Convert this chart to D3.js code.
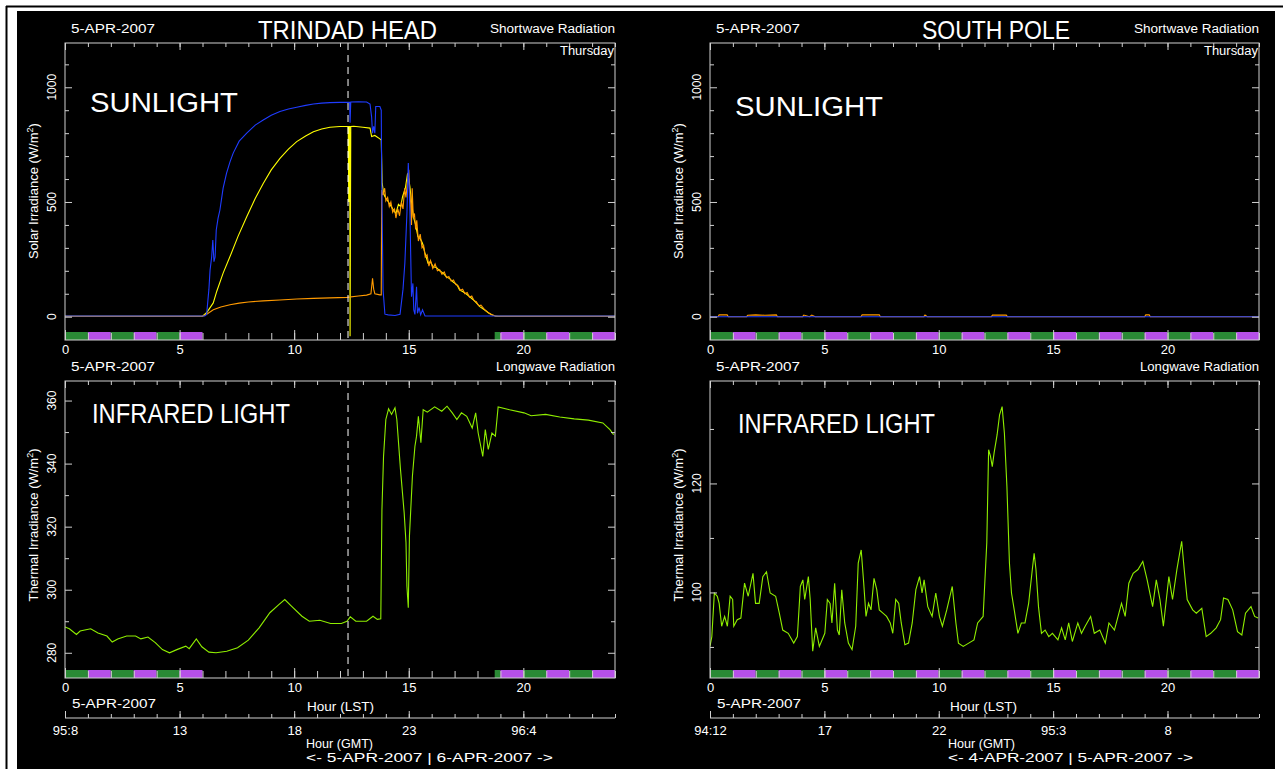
<!DOCTYPE html>
<html>
<head>
<meta charset="utf-8">
<script src="https://cdn.jsdelivr.net/npm/d3@7"></script>
<style>
  body { margin: 0; background: #fff; }
  svg text { font-family: "Liberation Sans", "DejaVu Sans", sans-serif; fill: #fff; }
</style>
</head>
<body>
<svg id="chart" width="1283" height="769"></svg>
<script>
// ---- data (hour LST, W/m2) ----
var lstTicks = [0, 5, 10, 15, 20];
var thGmtLabels = ["95:8", "13", "18", "23", "96:4"];
var spGmtLabels = ["94:12", "17", "22", "95:3", "8"];
var thNight = [[0, 6], [18.75, 24]];
var spNight = [[0, 24]];
var nowHour = 12.35;

// Trinidad Head shortwave
var thDirect = [[0,3],[6.1,3],[6.18,10],[6.28,120],[6.33,203],[6.4,260],[6.45,334],[6.5,240],[6.55,260],[6.6,378],[6.68,430],[6.76,465],[6.9,560],[7.05,626],[7.2,675],[7.34,713],[7.6,765],[7.93,800],[8.3,835],[8.65,857],[9.0,878],[9.38,894],[9.75,905],[10.11,913],[10.5,921],[10.84,927],[11.2,931],[11.56,933],[12.0,934],[12.3,934],[12.42,934],[12.44,845],[12.47,936],[12.8,937],[13.16,936],[13.31,927],[13.38,870],[13.42,800],[13.47,830],[13.52,800],[13.56,916],[13.74,916],[13.8,900],[13.82,610],[13.88,116],[13.96,11],[14.1,8],[14.4,5],[14.62,10],[14.75,120],[14.83,234],[14.92,450],[14.98,670],[15.02,560],[15.05,460],[15.12,87],[15.18,145],[15.22,30],[15.27,10],[15.34,130],[15.38,15],[15.45,40],[15.52,8],[15.6,30],[15.71,3],[24,3]];
var thGlobal = [[0,2],[6.0,2],[6.2,20],[6.47,60],[6.62,110],[6.9,190],[7.2,262],[7.55,350],[7.93,436],[8.3,515],[8.65,581],[9.0,640],[9.38,690],[9.75,730],[10.11,763],[10.5,788],[10.84,806],[11.2,818],[11.56,826],[12.0,829],[12.36,829],[12.38,500],[12.4,829],[12.42,829],[12.44,-85],[12.47,829],[12.6,830],[13.0,826],[13.31,822],[13.38,785],[13.52,790],[13.74,775],[13.8,770],[13.84,582],[13.9,540],[13.96,523],[14.05,510],[14.15,494],[14.3,470],[14.44,450],[14.55,490],[14.65,480],[14.73,523],[14.85,560],[14.95,625],[15.0,600],[15.05,567],[15.12,500],[15.2,436],[15.3,400],[15.4,349],[15.5,340],[15.6,320],[15.7,280],[15.84,233],[15.95,240],[16.06,218],[16.2,215],[16.35,200],[16.5,190],[16.64,174],[16.8,165],[16.95,150],[17.1,140],[17.22,116],[17.35,110],[17.5,100],[17.66,87],[17.8,75],[17.95,60],[18.1,44],[18.3,30],[18.5,15],[18.65,7],[18.8,2],[24,2]];
var thDiffuse = [[0,2],[6.0,2],[6.2,12],[6.47,30],[6.8,42],[7.2,52],[7.6,59],[8.0,64],[8.65,69],[9.38,73],[10.11,77],[10.84,80],[11.56,82],[12.3,84],[12.8,90],[13.16,94],[13.35,100],[13.42,167],[13.47,120],[13.52,100],[13.74,95],[13.8,95],[13.82,552],[13.88,530],[13.95,560],[14.0,505],[14.08,520],[14.15,480],[14.22,500],[14.3,455],[14.38,470],[14.44,430],[14.52,470],[14.6,440],[14.68,500],[14.75,470],[14.82,560],[14.88,520],[14.95,600],[15.0,640],[15.03,560],[15.08,500],[15.12,400],[15.15,560],[15.2,430],[15.25,450],[15.3,380],[15.35,420],[15.42,330],[15.5,360],[15.58,300],[15.65,310],[15.72,260],[15.8,270],[15.88,220],[15.95,245],[16.05,210],[16.15,230],[16.25,200],[16.35,205],[16.45,185],[16.55,195],[16.65,170],[16.75,175],[16.85,155],[16.95,160],[17.05,140],[17.15,135],[17.25,115],[17.35,120],[17.45,100],[17.55,105],[17.65,85],[17.75,90],[17.85,70],[17.95,65],[18.05,48],[18.15,50],[18.3,32],[18.45,20],[18.6,10],[18.75,4],[18.9,2],[24,2]];

// Trinidad Head longwave
var thIR = [[0,288.2],[0.19,287.6],[0.5,285.8],[0.66,286.9],[1.12,287.6],[1.44,286.3],[1.83,285.3],[2.06,283.4],[2.3,284.4],[2.69,285.3],[3.08,285.3],[3.31,284.4],[3.62,285.0],[3.94,283.2],[4.25,281.0],[4.56,280.0],[4.88,281.0],[5.27,282.1],[5.42,281.3],[5.73,284.4],[5.97,281.9],[6.28,280.2],[6.59,280.0],[7.06,280.5],[7.53,281.6],[8.0,284.0],[8.47,287.9],[8.94,292.7],[9.33,295.3],[9.59,296.9],[9.88,294.8],[10.34,291.6],[10.66,290.0],[11.12,290.3],[11.59,289.3],[12.06,289.3],[12.3,290.0],[12.45,291.4],[12.69,290.0],[13.16,290.0],[13.44,291.6],[13.63,290.6],[13.78,290.8],[13.83,325.4],[13.9,342.3],[14.0,354.0],[14.12,357.4],[14.25,355.6],[14.4,357.7],[14.48,354.0],[14.64,338.1],[14.8,324.4],[14.88,314.9],[14.92,301.1],[14.98,294.3],[15.03,317.0],[15.16,336.0],[15.27,345.5],[15.34,348.7],[15.42,355.0],[15.53,346.6],[15.63,357.1],[15.81,356.3],[16.13,358.0],[16.44,356.6],[16.67,358.2],[16.9,356.1],[17.1,354.0],[17.3,356.1],[17.53,355.0],[17.77,351.3],[17.92,356.1],[18.03,349.7],[18.23,342.3],[18.34,350.8],[18.47,344.5],[18.63,349.7],[18.78,348.7],[18.9,358.0],[19.4,357.1],[20.03,356.1],[20.34,355.2],[20.97,355.6],[21.59,354.8],[22.22,354.2],[22.84,353.8],[23.47,352.9],[23.78,350.8],[23.94,349.2]];

// South Pole shortwave
var spDiffuse = [[0,0],[0.35,0],[0.4,8],[0.75,8],[0.8,0],[1.6,0],[1.65,6],[2.0,8],[2.4,6],[2.9,8],[2.95,0],[4.05,0],[4.1,7],[4.35,0],[4.45,7],[4.6,0],[6.6,0],[6.65,8],[7.4,8],[7.45,0],[9.35,0],[9.4,7],[9.5,0],[12.3,0],[12.35,7],[12.95,7],[13.0,0],[19.0,0],[19.05,8],[19.2,8],[19.25,0],[24,0]];
var spDirect = [[0,0],[24,0]];

// South Pole longwave
var spIR = [[0,90.1],[0.08,91.9],[0.19,99.9],[0.32,99.3],[0.4,98.0],[0.51,93.8],[0.64,95.6],[0.76,93.8],[0.88,99.3],[0.99,98.7],[1.04,93.8],[1.19,95.0],[1.35,95.3],[1.51,101.7],[1.67,99.3],[1.88,103.5],[1.99,98.0],[2.15,98.0],[2.31,102.9],[2.47,103.8],[2.63,99.9],[2.87,99.3],[3.03,96.2],[3.18,93.1],[3.42,92.5],[3.66,90.7],[3.82,91.9],[3.95,101.1],[4.06,102.3],[4.14,98.7],[4.3,102.9],[4.38,98.7],[4.49,89.2],[4.62,93.5],[4.78,90.1],[5.02,92.5],[5.13,98.7],[5.25,98.0],[5.33,94.4],[5.45,101.7],[5.57,93.1],[5.65,92.2],[5.76,100.5],[5.89,94.4],[6.05,90.7],[6.21,89.5],[6.37,93.8],[6.48,105.4],[6.61,107.8],[6.72,101.7],[6.82,95.6],[6.93,98.0],[7.04,96.8],[7.17,102.6],[7.29,100.5],[7.4,96.8],[7.56,96.2],[7.72,95.6],[7.88,94.4],[7.99,92.5],[8.12,98.7],[8.25,98.0],[8.36,94.4],[8.52,90.4],[8.68,90.7],[8.84,94.4],[9.0,100.5],[9.16,102.9],[9.27,99.9],[9.36,102.3],[9.52,97.4],[9.71,95.6],[9.87,99.9],[10.03,95.6],[10.16,93.8],[10.35,96.8],[10.59,101.1],[10.75,94.4],[10.86,90.7],[11.07,90.1],[11.31,90.7],[11.54,91.3],[11.7,94.4],[11.94,95.6],[12.1,109.1],[12.18,126.2],[12.26,125.0],[12.34,123.1],[12.42,125.6],[12.55,128.9],[12.66,132.6],[12.77,134.1],[12.87,129.2],[12.98,119.4],[13.09,105.4],[13.18,99.9],[13.3,96.8],[13.46,92.5],[13.61,94.4],[13.77,94.4],[13.93,98.0],[14.09,104.2],[14.17,107.2],[14.25,104.2],[14.36,97.4],[14.49,92.5],[14.65,93.1],[14.81,91.9],[14.97,92.5],[15.21,91.3],[15.37,93.5],[15.53,91.3],[15.68,94.4],[15.84,91.0],[16.08,94.4],[16.24,92.5],[16.4,93.8],[16.64,95.6],[16.8,92.5],[17.04,93.1],[17.28,90.7],[17.44,94.4],[17.68,93.1],[17.99,98.0],[18.15,95.6],[18.31,101.7],[18.5,103.5],[18.71,104.2],[18.92,105.7],[19.11,102.3],[19.35,97.4],[19.51,102.3],[19.67,98.7],[19.82,93.8],[20.06,102.9],[20.22,98.7],[20.41,104.2],[20.62,109.4],[20.73,104.2],[20.86,98.7],[21.1,96.8],[21.26,96.2],[21.5,97.1],[21.69,91.9],[21.89,92.5],[22.13,93.5],[22.32,95.0],[22.45,99.0],[22.64,98.7],[22.85,96.8],[23.06,92.8],[23.25,92.2],[23.41,96.2],[23.65,97.4],[23.81,95.6],[23.96,95.3]];

var axisCol = "#d0d0d0";
var green = "#2a8a35", violet = "#b650e8";
var svg = d3.select("#chart");
var clipN = 0;

// page frame
svg.append("rect").attr("x", 17).attr("y", 11).attr("width", 1258).attr("height", 758).attr("fill", "#000");
svg.append("line").attr("x1", 6).attr("x2", 1283).attr("y1", 6.5).attr("y2", 6.5).attr("stroke", "#000").attr("stroke-width", 2);
svg.append("line").attr("x1", 6.5).attr("x2", 6.5).attr("y1", 6).attr("y2", 769).attr("stroke", "#000").attr("stroke-width", 2);

function label(x, y, txt, size, anchor, len) {
  var t = svg.append("text").attr("x", x).attr("y", y).attr("font-size", size)
    .attr("text-anchor", anchor || "start").text(txt);
  if (len) t.attr("textLength", len).attr("lengthAdjust", "spacingAndGlyphs");
  return t;
}

function ytitle(cx, cy, txt) {
  var t = svg.append("text").attr("transform", "translate(" + cx + "," + cy + ")rotate(-90)")
    .attr("text-anchor", "middle").attr("font-size", 13);
  t.append("tspan").text(txt + " (W/m");
  t.append("tspan").attr("dy", -5).attr("font-size", 9).text("2");
  t.append("tspan").attr("dy", 5).text(")");
}

function styleAxis(a) {
  a.select(".domain").remove();
  a.selectAll("line").attr("stroke", axisCol);
  a.selectAll("text").attr("fill", "#fff").attr("font-size", 13)
    .attr("font-family", "Liberation Sans, DejaVu Sans, sans-serif");
}

function panel(c) {
  var x = d3.scaleLinear().domain([0, 24]).range(c.xr);
  var y = d3.scaleLinear().domain(c.ydom).range(c.yr);
  var x0 = c.xr[0], x1 = c.xr[1], yb = c.yr[0], yt = c.yr[1];
  var g = svg.append("g");
  var id = "clip" + (clipN++);
  svg.append("clipPath").attr("id", id).append("rect")
    .attr("x", x0).attr("y", yt).attr("width", x1 - x0).attr("height", yb - yt);

  // night strip: alternating hour blocks
  c.night.forEach(function(n) {
    d3.range(Math.floor(n[0]), Math.ceil(n[1])).forEach(function(h) {
      var s = Math.max(n[0], h), e = Math.min(n[1], h + 1);
      g.append("rect").attr("x", x(s)).attr("y", yb - 8).attr("width", x(e) - x(s)).attr("height", 8)
        .attr("fill", h % 2 === 0 ? green : violet);
    });
  });

  var line = d3.line().x(function(d) { return x(d[0]); }).y(function(d) { return y(d[1]); });
  var lines = g.append("g").attr("clip-path", "url(#" + id + ")");
  c.series.forEach(function(s) {
    lines.append("path").attr("d", line(s.data)).attr("fill", "none")
      .attr("stroke", s.color).attr("stroke-width", 1.1);
  });

  if (c.marker != null) {
    g.append("line").attr("x1", x(c.marker)).attr("x2", x(c.marker)).attr("y1", yt).attr("y2", yb)
      .attr("stroke", "#fff").attr("stroke-dasharray", "7,5");
  }

  g.append("rect").attr("x", x0).attr("y", yt).attr("width", x1 - x0).attr("height", yb - yt)
    .attr("fill", "none").attr("stroke", axisCol);

  var hours = d3.range(0, 25);
  g.append("g").attr("transform", "translate(0," + yb + ")")
    .call(d3.axisBottom(x).tickValues(hours).tickSize(-7).tickFormat("")).call(styleAxis);
  g.append("g").attr("transform", "translate(0," + yb + ")")
    .call(d3.axisBottom(x).tickValues(lstTicks).tickSize(-10).tickPadding(5)).call(styleAxis);
  g.append("g").attr("transform", "translate(0," + yt + ")")
    .call(d3.axisTop(x).tickValues(hours).tickSize(-4).tickFormat("")).call(styleAxis);
  g.append("g").attr("transform", "translate(0," + yt + ")")
    .call(d3.axisTop(x).tickValues(lstTicks).tickSize(-7).tickFormat("")).call(styleAxis);
  [[d3.axisLeft, x0], [d3.axisRight, x1]].forEach(function(p) {
    g.append("g").attr("transform", "translate(" + p[1] + ",0)")
      .call(p[0](y).tickValues(c.yMinor).tickSize(-4).tickFormat("")).call(styleAxis);
    g.append("g").attr("transform", "translate(" + p[1] + ",0)")
      .call(p[0](y).tickValues(c.yMajor).tickSize(-7).tickFormat("")).call(styleAxis);
  });
  c.yMajor.forEach(function(v) {
    svg.append("text").attr("transform", "translate(" + (x0 - 9) + "," + y(v) + ")rotate(-90)")
      .attr("text-anchor", "middle").attr("font-size", 12).text(v);
  });
  return x;
}

function gmtAxis(x, yl, labels) {
  svg.append("line").attr("x1", x.range()[0]).attr("x2", x.range()[1]).attr("y1", yl).attr("y2", yl)
    .attr("stroke", axisCol);
  svg.append("g").attr("transform", "translate(0," + yl + ")")
    .call(d3.axisBottom(x).tickValues(d3.range(0, 25)).tickSize(-4).tickFormat("")).call(styleAxis);
  svg.append("g").attr("transform", "translate(0," + yl + ")")
    .call(d3.axisBottom(x).tickValues(lstTicks).tickSize(-7).tickPadding(8)
      .tickFormat(function(d, i) { return labels[i]; })).call(styleAxis);
}

// ---- Trinidad Head ----
var yTopDom = [-101.6, 1193];
var topMajor = [0, 500, 1000], topMinor = [100, 200, 300, 400, 600, 700, 800, 900, 1100];

panel({ xr: [65, 615], yr: [340, 43], ydom: yTopDom, yMajor: topMajor, yMinor: topMinor,
  night: thNight, marker: nowHour,
  series: [{ data: thGlobal, color: "#ffff00" }, { data: thDiffuse, color: "#ff9a00" }, { data: thDirect, color: "#1f3cff" }] });
var xL = panel({ xr: [65, 615], yr: [678, 381], ydom: [272, 366.2], yMajor: [280, 300, 320, 340, 360], yMinor: [290, 310, 330, 350],
  night: thNight, marker: nowHour, series: [{ data: thIR, color: "#8fee00" }] });

// ---- South Pole ----
panel({ xr: [710, 1259], yr: [340, 43], ydom: yTopDom, yMajor: topMajor, yMinor: topMinor,
  night: spNight, marker: null,
  series: [{ data: spDiffuse, color: "#ff9a00" }, { data: spDirect, color: "#1f3cff" }] });
var xR = panel({ xr: [710, 1259], yr: [678, 381], ydom: [84.3, 138.8], yMajor: [100, 120], yMinor: [90, 110, 130],
  night: spNight, marker: null, series: [{ data: spIR, color: "#8fee00" }] });

gmtAxis(xL, 718, thGmtLabels);
gmtAxis(xR, 718, spGmtLabels);

// ---- texts ----
[[65, 615, "TRINDAD HEAD", 258, 179, 90, 112, 92, 423, 198, 307, 306, "<-  5-APR-2007 |  6-APR-2007 ->", 247],
 [710, 1259, "SOUTH POLE", 922, 148, 735, 116, 738, 433, 197, 950, 948, "<-  4-APR-2007 |  5-APR-2007 ->", 245]]
.forEach(function(p) {
  var x0 = p[0], x1 = p[1];
  label(x0 + 6, 33, "5-APR-2007", 12, "start", 84);
  label(p[3], 39, p[2], 26, "start", p[4]);
  label(x1, 33, "Shortwave Radiation", 12, "end", 125);
  label(x1 - 1, 55, "Thursday", 12, "end", 54);
  label(p[5], p[6], "SUNLIGHT", 27, "start", 148);
  label(x0 + 6, 371, "5-APR-2007", 12, "start", 84);
  label(x1, 371, "Longwave Radiation", 12, "end", 119);
  label(p[7], p[8], "INFRARED LIGHT", 27, "start", p[9]);
  label(x0 + 7, 708, "5-APR-2007", 12, "start", 84);
  label(p[10], 711, "Hour (LST)", 13, "start", 67);
  label(p[11], 748, "Hour (GMT)", 13, "start", 67);
  label(p[11], 762, p[12], 13, "start", p[13]);
  ytitle(x0 - 27, 191, "Solar Irradiance");
  ytitle(x0 - 27, 525, "Thermal Irradiance");
});
</script>
</body>
</html>
